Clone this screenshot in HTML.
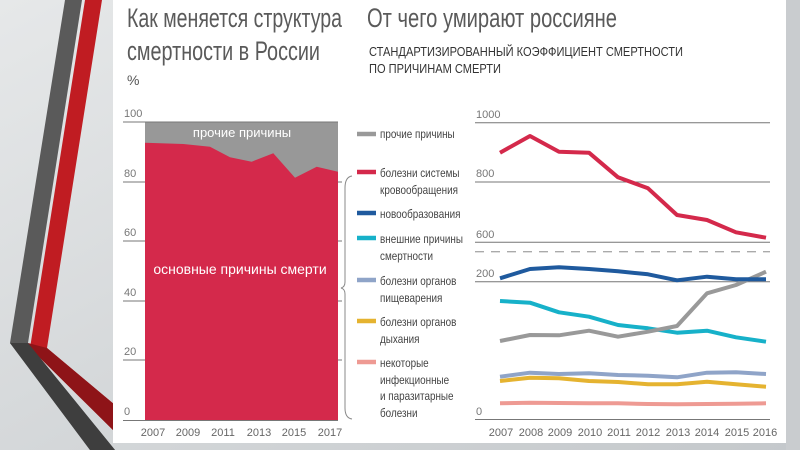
<!DOCTYPE html>
<html><head><meta charset="utf-8"><style>
html,body{margin:0;padding:0;width:800px;height:450px;overflow:hidden;background:#d3d6d8}
svg{display:block}
text{font-family:"Liberation Sans","DejaVu Sans",sans-serif}
</style></head><body>
<svg width="800" height="450" viewBox="0 0 800 450">
<defs>
<linearGradient id="bg" x1="0" y1="0" x2="1" y2="1"><stop offset="0" stop-color="#e6e8e9"/><stop offset="1" stop-color="#c4c8cb"/></linearGradient>
</defs>
<rect width="800" height="450" fill="url(#bg)"/>
<polygon points="65,0 82,0 28,343 115,450 90,450 10,343" fill="#5a5a5a"/>
<polygon points="85,0 102,0 47,348 115,405 115,432 30,348" fill="#c01c22"/>
<polygon points="28,343 47,348 115,405 115,432 30,348" fill="#8e1418"/>
<polygon points="10,343 28,343 115,450 90,450" fill="#3e3e3e"/>
<rect x="113" y="0" width="673" height="443" fill="#fff"/>
<rect x="786" y="0" width="14" height="450" fill="#c9cccf"/>
<g fill="#5a5a5a" font-size="27">
<text x="127" y="27" textLength="215" lengthAdjust="spacingAndGlyphs">Как меняется структура</text>
<text x="127" y="60" textLength="193" lengthAdjust="spacingAndGlyphs">смертности в России</text>
<text x="367" y="27" textLength="250" lengthAdjust="spacingAndGlyphs">От чего умирают россияне</text>
</g>
<text x="127" y="85" font-size="14" fill="#555">%</text>
<g fill="#333" font-size="12.5">
<text x="369" y="56" textLength="314" lengthAdjust="spacingAndGlyphs">СТАНДАРТИЗИРОВАННЫЙ КОЭФФИЦИЕНТ СМЕРТНОСТИ</text>
<text x="369" y="73" textLength="132" lengthAdjust="spacingAndGlyphs">ПО ПРИЧИНАМ СМЕРТИ</text>
</g>
<rect x="145" y="122" width="193" height="298" fill="#989898"/>
<polygon points="145,142.7 183.3,144 210,146.7 230,157.3 251.7,161.7 273.3,153.3 295,177.7 316.7,166.7 338,171.7 338,420 145,420" fill="#d4294b"/>
<g stroke="#777" stroke-width="1">
<line x1="123" y1="122" x2="338" y2="122"/><line x1="123" y1="420.5" x2="338" y2="420.5"/>
<line x1="123" y1="182" x2="145" y2="182"/><line x1="123" y1="241" x2="145" y2="241"/>
<line x1="123" y1="301" x2="145" y2="301"/><line x1="123" y1="360" x2="145" y2="360"/>
<line x1="338" y1="182" x2="342" y2="182"/><line x1="338" y1="241" x2="342" y2="241"/>
<line x1="338" y1="301" x2="342" y2="301"/><line x1="338" y1="360" x2="342" y2="360"/>
</g>
<g fill="#777" font-size="11">
<text x="124" y="117">100</text><text x="124" y="177">80</text><text x="124" y="236">60</text>
<text x="124" y="296">40</text><text x="124" y="355">20</text><text x="124" y="415">0</text>
</g>
<g fill="#666" font-size="11" text-anchor="middle">
<text x="153" y="436">2007</text><text x="188" y="436">2009</text><text x="223" y="436">2011</text>
<text x="259" y="436">2013</text><text x="294" y="436">2015</text><text x="330" y="436">2017</text>
</g>
<text x="242" y="137" font-size="13" fill="#fff" text-anchor="middle">прочие причины</text>
<text x="240" y="274" font-size="14" fill="#fff" text-anchor="middle">основные причины смерти</text>
<path d="M352,176 Q345,177 345,188 L345,282 Q345,287 341,288 Q345,289 345,294 L345,408 Q345,418 352,419" fill="none" stroke="#888" stroke-width="1"/>
<g stroke-width="4.5">
<line x1="357" y1="134" x2="376" y2="134" stroke="#999"/>
<line x1="357" y1="172" x2="376" y2="172" stroke="#d4294b"/>
<line x1="357" y1="213" x2="376" y2="213" stroke="#1f5a9e"/>
<line x1="357" y1="238" x2="376" y2="238" stroke="#17b1c9"/>
<line x1="357" y1="280" x2="376" y2="280" stroke="#8fa4c8"/>
<line x1="357" y1="321" x2="376" y2="321" stroke="#e5b330"/>
<line x1="357" y1="362" x2="376" y2="362" stroke="#ee9a93"/>
</g>
<g fill="#444" font-size="11.5" transform="translate(380,0) scale(0.86,1)">
<text x="0" y="138">прочие причины</text>
<text x="0" y="177">болезни системы</text><text x="0" y="194">кровообращения</text>
<text x="0" y="218">новообразования</text>
<text x="0" y="243">внешние причины</text><text x="0" y="260">смертности</text>
<text x="0" y="285">болезни органов</text><text x="0" y="302">пищеварения</text>
<text x="0" y="326">болезни органов</text><text x="0" y="343">дыхания</text>
<text x="0" y="367">некоторые</text><text x="0" y="384">инфекционные</text>
<text x="0" y="400">и паразитарные</text><text x="0" y="417">болезни</text>
</g>
<g stroke="#777" stroke-width="1">
<line x1="475" y1="122.7" x2="770" y2="122.7"/><line x1="475" y1="182" x2="770" y2="182"/>
<line x1="475" y1="242.3" x2="770" y2="242.3"/><line x1="475" y1="281.7" x2="770" y2="281.7"/>
<line x1="475" y1="419.5" x2="770" y2="419.5"/>
</g>
<line x1="475" y1="251.7" x2="770" y2="251.7" stroke="#aaa" stroke-width="1.3" stroke-dasharray="9,7"/>
<g fill="#777" font-size="11">
<text x="476" y="118">1000</text><text x="476" y="177">800</text><text x="476" y="238">600</text>
<text x="476" y="277">200</text><text x="476" y="415">0</text>
</g>
<g fill="#666" font-size="11" text-anchor="middle">
<text x="501" y="436">2007</text><text x="531" y="436">2008</text><text x="560" y="436">2009</text>
<text x="590" y="436">2010</text><text x="619" y="436">2011</text><text x="648" y="436">2012</text>
<text x="678" y="436">2013</text><text x="707" y="436">2014</text><text x="737" y="436">2015</text>
<text x="765" y="436">2016</text>
</g>
<g fill="none" stroke-width="4" stroke-linejoin="round">
<polyline stroke="#ee9a93" points="500,403.3 530,402.7 559,403 589,403.3 618,403.3 648,404 677,404.3 707,404 736,403.7 766,403.3"/>
<polyline stroke="#e5b330" points="500,381 530,377.7 559,378.3 589,381 618,382 648,384.3 677,384.3 707,381.7 736,384.3 766,386.7"/>
<polyline stroke="#8fa4c8" points="500,376.7 530,372.7 559,374 589,373.3 618,375 648,375.7 677,377.3 707,372.7 736,372.3 766,374"/>
<polyline stroke="#17b1c9" points="500,301 530,302.7 559,312.3 589,316.7 618,325 648,328.3 677,332.7 707,330.7 736,337.3 766,341.7"/>
<polyline stroke="#999" points="500,341 530,335 559,335.3 589,330.7 618,336.7 648,331.7 677,326 707,293.3 736,285 766,271.7"/>
<polyline stroke="#1f5a9e" points="500,278.3 530,269 559,267.3 589,269 618,271.3 648,274.3 677,280.3 707,276.7 736,279.3 766,279.3"/>
<polyline stroke="#d4294b" points="500,152.7 530,136 559,151.7 589,152.7 618,177.3 648,188.3 677,215 707,220 736,232.3 766,237.7"/>
</g>
</svg>
</body></html>
